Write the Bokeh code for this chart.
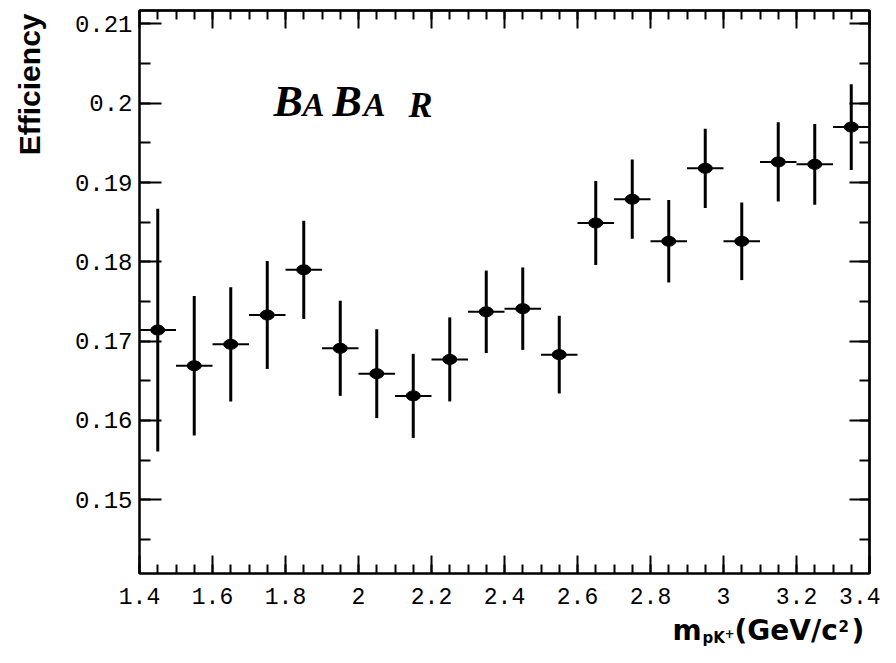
import numpy as np
from bokeh.plotting import figure
from bokeh.layouts import row, column
from bokeh.models import LinearAxis, FixedTicker, Label, Range1d, ColumnDataSource
from bokeh.embed import file_html
from bokeh.resources import INLINE

# ---------------- data ----------------
mass_bin_centers = [1.45, 1.55, 1.65, 1.75, 1.85, 1.95, 2.05, 2.15, 2.25, 2.35,
                    2.45, 2.55, 2.65, 2.75, 2.85, 2.95, 3.05, 3.15, 3.25, 3.35]
efficiency = [0.1714, 0.1669, 0.1696, 0.1733, 0.1790, 0.1691, 0.1659, 0.1631, 0.1677, 0.1737,
              0.1741, 0.1683, 0.1849, 0.1879, 0.1826, 0.1918, 0.1826, 0.1926, 0.1923, 0.1970]
efficiency_err = [0.0153, 0.0088, 0.0072, 0.0068, 0.0062, 0.0060, 0.0056, 0.0053, 0.0053, 0.0052,
                  0.0052, 0.0049, 0.0053, 0.0050, 0.0052, 0.0050, 0.0049, 0.0050, 0.0051, 0.0054]
bin_half_width = 0.05

x_major_ticks = [1.4, 1.6, 1.8, 2.0, 2.2, 2.4, 2.6, 2.8, 3.0, 3.2, 3.4]
x_tick_labels = ["1.4", "1.6", "1.8", "2", "2.2", "2.4", "2.6", "2.8", "3", "3.2", "3.4"]
x_minor_ticks = [round(1.4 + 0.05 * i, 2) for i in range(41)]
y_major_ticks = [0.15, 0.16, 0.17, 0.18, 0.19, 0.2, 0.21]
y_tick_labels = ["0.15", "0.16", "0.17", "0.18", "0.19", "0.2", "0.21"]
y_minor_ticks = [round(0.14 + 0.005 * i, 3) for i in range(16)]

x_lo, x_hi = 1.4, 3.4
y_lo, y_hi = 0.1407, 0.2117

# ---------------- layout geometry ----------------
W, H = 880, 647
LEFT_W = 60            # strip holding the y-axis title
MAIN_H = 613           # main plot height; below it a strip for the x-axis title
MAIN_W = W - LEFT_W


def text_strip(width, height):
    f = figure(width=width, height=height, output_backend="svg", toolbar_location=None,
               x_range=Range1d(0, 1), y_range=Range1d(0, 1),
               x_axis_location=None, y_axis_location=None, min_border=0)
    f.outline_line_color = None
    f.xgrid.visible = False
    f.ygrid.visible = False
    f.background_fill_color = "white"
    f.border_fill_color = "white"
    return f


def add_label(fig, text, cx, cy, size, font="Liberation Sans", style="bold", angle=0.0,
              align="left"):
    # cy is the vertical centre of the text box (text_baseline="middle")
    fig.add_layout(Label(x=cx, y=cy, x_units="canvas", y_units="canvas", text=text,
                         text_font=font, text_font_size=f"{size}px", text_font_style=style,
                         text_color="black", angle=angle, text_align=align,
                         text_baseline="middle"))


# ---------------- main figure ----------------
p = figure(width=MAIN_W, height=MAIN_H, output_backend="svg", toolbar_location=None,
           x_range=Range1d(x_lo, x_hi), y_range=Range1d(y_lo, y_hi),
           x_axis_location=None, y_axis_location=None,
           min_border_left=139 - LEFT_W, min_border_right=11, min_border_top=10,
           min_border_bottom=MAIN_H - 573)
p.background_fill_color = "white"
p.border_fill_color = "white"
p.outline_line_color = "black"
p.outline_line_width = 2
p.xgrid.visible = False
p.ygrid.visible = False

tick_font = "Liberation Mono"


def base_axis(ax):
    ax.axis_line_color = "black"
    ax.axis_line_width = 2
    for pre in ("major_tick", "minor_tick"):
        setattr(ax, pre + "_line_color", "black")
        setattr(ax, pre + "_line_width", 2)
    ax.major_tick_out = 0
    ax.minor_tick_out = 0


def labelled_axis(ticker, major_in, minor_in, overrides, standoff, size):
    ax = LinearAxis(ticker=ticker)
    base_axis(ax)
    ax.major_tick_in = major_in
    ax.minor_tick_in = minor_in
    ax.major_label_text_font = tick_font
    ax.major_label_text_font_size = f"{size}px"
    ax.major_label_text_color = "black"
    ax.major_label_overrides = overrides
    ax.major_label_standoff = standoff
    return ax


def tick_only_axis(positions, length):
    # no major ticks -> no labels; the given positions are drawn as (minor) ticks
    ax = LinearAxis(ticker=FixedTicker(ticks=[], minor_ticks=positions))
    base_axis(ax)
    ax.major_tick_in = 0
    ax.minor_tick_in = length
    ax.major_label_standoff = 0
    return ax


p.add_layout(labelled_axis(FixedTicker(ticks=x_major_ticks, minor_ticks=x_minor_ticks), 18, 9,
                           dict(zip(x_major_ticks, x_tick_labels)), 14, 23), "below")
p.add_layout(labelled_axis(FixedTicker(ticks=y_major_ticks, minor_ticks=y_minor_ticks), 22, 11,
                           dict(zip(y_major_ticks, y_tick_labels)), 7, 24), "left")
p.add_layout(tick_only_axis(x_major_ticks, 18), "above")
p.add_layout(tick_only_axis(x_minor_ticks, 9), "above")
p.add_layout(tick_only_axis(y_major_ticks, 20), "right")
p.add_layout(tick_only_axis(y_minor_ticks, 10), "right")

xc = np.array(mass_bin_centers)
yc = np.array(efficiency)
ye = np.array(efficiency_err)
src = ColumnDataSource(dict(x=xc, y=yc, x0=xc - bin_half_width, x1=xc + bin_half_width,
                            y0=yc - ye, y1=yc + ye))
p.segment(x0="x0", y0="y", x1="x1", y1="y", source=src, line_color="black", line_width=2)
p.segment(x0="x", y0="y0", x1="x", y1="y1", source=src, line_color="black", line_width=3)
p.ellipse(x="x", y="y", width=14, height=10, width_units="screen", height_units="screen",
          source=src, fill_color="black", line_color="black")

# BABAR logo (inside the frame); canvas coords of the main figure
logo_font = "Liberation Serif"
for ch, px, py, sz in [("B", 273, 101, 44), ("A", 302, 104, 33), ("B", 332, 101, 44),
                       ("A", 363, 104, 33), ("R", 408, 104, 36)]:
    add_label(p, ch, px - LEFT_W, py, sz, font=logo_font, style="bold italic")

# ---------------- y-axis title strip ----------------
left_strip = text_strip(LEFT_W, H)
add_label(left_strip, "Efficiency", 29, 13, 30, angle=np.pi / 2, align="right")

# ---------------- x-axis title strip: m_{pK+}(GeV/c^2) ----------------
xt = text_strip(MAIN_W, H - MAIN_H)
oy = MAIN_H
ox = LEFT_W
tf = "DejaVu Sans"
add_label(xt, "m", 672 - ox, 630 - oy, 28, font=tf)
add_label(xt, "pK", 702 - ox, 637 - oy, 15, font=tf)
add_label(xt, "+", 724 - ox, 633 - oy, 12, font=tf)
add_label(xt, "(GeV/c", 734 - ox, 630 - oy, 28, font=tf)
add_label(xt, "2", 838 - ox, 625 - oy, 15, font=tf)
add_label(xt, ")", 851 - ox, 630 - oy, 28, font=tf)

layout = row(left_strip, column(p, xt))
open("out.html", "w").write(file_html(layout, INLINE))
